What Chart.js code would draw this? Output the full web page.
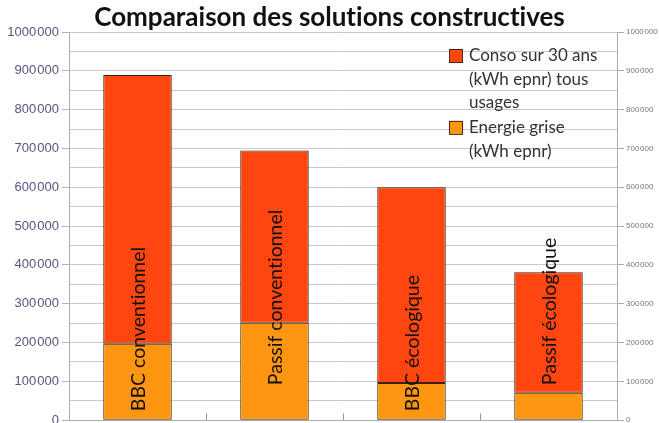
<!DOCTYPE html>
<html>
<head>
<meta charset="utf-8">
<script src="https://cdn.jsdelivr.net/npm/chart.js@4/dist/chart.umd.min.js"></script>
<style>
body { margin: 0; overflow: hidden; background: #fff; }
#wrap { width: 659px; height: 431px; position: relative; }
</style>
</head>
<body>
<div id="wrap"><canvas id="chart"></canvas></div>
<script>
// values
const categories = ['BBC conventionnel', 'Passif conventionnel', 'BBC écologique', 'Passif écologique'];
const energieGrise = [197000, 251000, 96000, 71000];
const consoTrente = [692000, 444000, 504000, 310000];
const yMax = 1000000;
const gridStep = 50000;
const labelStep = 100000;
const consoLines = ['Conso sur 30 ans', '(kWh epnr) tous', 'usages'];
const griseLines = ['Energie grise', '(kWh epnr)'];

function fmt(v) {
    if (v < 1000) return String(v);
    return Math.floor(v / 1000) + '\u200A' + String(v % 1000).padStart(3, '0');
}

// no ligatures in the text
const textSetup = {
    id: 'textSetup',
    beforeDraw(chart) {
        chart.ctx.textRendering = 'optimizeSpeed';
    }
};

// category names written up the bars
const barLabels = {
    id: 'barLabels',
    afterDatasetsDraw(chart) {
        const ctx = chart.ctx;
        const xs = chart.scales.x, ys = chart.scales.y;
        ctx.save();
        ctx.font = '19.5px Lato';
        ctx.fillStyle = '#111';
        ctx.textAlign = 'left';
        ctx.textBaseline = 'middle';
        categories.forEach((c, i) => {
            const px = xs.getPixelForValue(i) + 1;
            const py = ys.getPixelForValue(0) - (i % 2 ? 35 : 9);
            ctx.save();
            ctx.translate(px, py);
            ctx.rotate(-Math.PI / 2);
            ctx.fillText(c, 0, 0);
            ctx.restore();
        });
        ctx.restore();
    }
};

// legend inside the plot, top right, with wrapped text
const boxLegend = {
    id: 'boxLegend',
    afterDraw(chart) {
        const ctx = chart.ctx;
        const area = chart.chartArea;
        const items = [
            { lines: consoLines, ds: chart.data.datasets[1] },
            { lines: griseLines, ds: chart.data.datasets[0] }
        ];
        let x = area.right - 168;
        let y = area.top + 24;
        const lh = 23.3;
        ctx.save();
        ctx.font = '17px Lato';
        ctx.textBaseline = 'middle';
        ctx.textAlign = 'left';
        items.forEach(it => {
            ctx.fillStyle = it.ds.backgroundColor;
            ctx.fillRect(x, y - 7, 13, 13);
            ctx.strokeStyle = '#4a2a10';
            ctx.lineWidth = 1;
            ctx.strokeRect(x + 0.5, y - 6.5, 13, 13);
            ctx.fillStyle = '#333';
            it.lines.forEach((l, k) => ctx.fillText(l, x + 20, y + k * lh));
            y += it.lines.length * lh + 2;
        });
        ctx.restore();
    }
};

const ctx = document.getElementById('chart').getContext('2d');
const chart = new Chart(ctx, {
    type: 'bar',
    data: {
        labels: categories,
        datasets: [{
            label: griseLines.join(' '),
            data: energieGrise,
            backgroundColor: '#ff9612',
            borderColor: '#3a2008',
            borderWidth: 1,
            borderSkipped: false
        }, {
            label: consoLines.join(' '),
            data: consoTrente,
            backgroundColor: '#ff4610',
            borderColor: '#3a2008',
            borderWidth: 1,
            borderSkipped: false
        }]
    },
    options: {
        responsive: true,
        maintainAspectRatio: false,
        animation: false,
        barPercentage: 0.5,
        categoryPercentage: 1,
        layout: { padding: 0 },
        plugins: {
            legend: { display: false },
            tooltip: { enabled: false },
            title: {
                display: true,
                text: 'Comparaison des solutions constructives',
                color: '#111',
                font: { family: 'Lato', size: 26, weight: 'bold', lineHeight: 1 },
                padding: { top: 5, bottom: 1 }
            }
        },
        scales: {
            x: {
                stacked: true,
                offset: true,
                grid: { offset: true, drawOnChartArea: false, tickLength: -7, color: '#999' },
                border: { display: true, color: '#aaa' },
                ticks: { display: false },
                afterFit(s) { s.height = 10; }
            },
            y: {
                stacked: true,
                min: 0,
                max: yMax,
                position: 'left',
                grid: {
                    color: '#cacaca',
                    tickLength: 7,
                    tickColor: c => (c.tick && c.tick.value % labelStep === 0) ? '#b0b0b0' : 'rgba(0,0,0,0)'
                },
                border: { display: true, color: '#aaa' },
                ticks: {
                    stepSize: gridStep,
                    autoSkip: false,
                    padding: 3,
                    color: '#5f4f7f',
                    font: { family: 'Liberation Sans', size: 13 },
                    callback: v => v % labelStep === 0 ? fmt(v) : ''
                },
                afterFit(s) { s.width = 69; }
            },
            y2: {
                min: 0,
                max: yMax,
                position: 'right',
                grid: { drawOnChartArea: false, tickLength: 7, tickColor: '#aaa' },
                border: { display: true, color: '#aaa' },
                ticks: {
                    stepSize: labelStep,
                    padding: 2,
                    color: '#777',
                    font: { family: 'Liberation Sans', size: 8 },
                    callback: v => fmt(v)
                },
                afterFit(s) { s.width = 42; }
            }
        }
    },
    plugins: [textSetup, barLabels, boxLegend]
});
</script>
</body>
</html>
